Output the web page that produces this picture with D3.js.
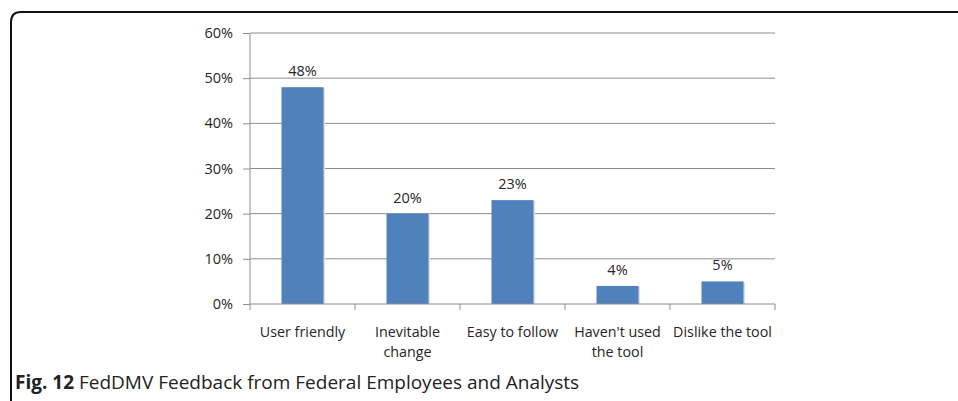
<!DOCTYPE html>
<html><head><meta charset="utf-8">
<script src="https://cdn.jsdelivr.net/npm/d3@7"></script>
<style>body{margin:0;background:#fff;}svg{display:block;}</style>
</head><body>
<script>
const categories = [["User friendly"], ["Inevitable", "change"], ["Easy to follow"], ["Haven't used", "the tool"], ["Dislike the tool"]];
const values = [48, 20, 23, 4, 5];
const valueLabels = ["48%", "20%", "23%", "4%", "5%"];
const yTicks = [0, 10, 20, 30, 40, 50, 60];

const W = 958, H = 401;
const svg = d3.select("body").append("svg").attr("width", W).attr("height", H);

// frame
svg.append("path")
  .attr("d", `M11,401 L11,22 Q11,12 21,12 L960,12`)
  .attr("fill", "none").attr("stroke", "#111").attr("stroke-width", 2);

const x0 = 250, x1 = 775, yTop = 33, yBot = 304;
const x = d3.scaleBand().domain(d3.range(categories.length)).range([x0, x1]).paddingInner(0.6).paddingOuter(0.3);
const y = d3.scaleLinear().domain([0, 60]).range([yBot, yTop]);

const font = "'Open Sans', 'DejaVu Sans', sans-serif";
const txt = "#262626";

// gridlines
svg.append("g").selectAll("line").data(yTicks.filter(d => d > 0)).join("line")
  .attr("x1", x0).attr("x2", x1).attr("y1", d => y(d)).attr("y2", d => y(d))
  .attr("stroke", "#8c8c8c").attr("stroke-width", 1);

// y axis
const yAxis = d3.axisLeft(y).tickValues(yTicks).tickFormat(d => d + "%").tickSize(7).tickPadding(10);
const gy = svg.append("g").attr("transform", `translate(${x0},0)`).call(yAxis);
gy.select(".domain").attr("stroke", "#8c8c8c").attr("d", `M0,${yTop}V${yBot}`);
gy.selectAll(".tick line").attr("stroke", "#8c8c8c");
gy.selectAll("text").attr("font-family", font).attr("font-size", 14.5).attr("fill", txt);

// bars shadow
svg.append("g").selectAll("rect").data(values).join("rect")
  .attr("x", (d, i) => x(i) + 1.5).attr("y", d => y(d) + 1)
  .attr("width", x.bandwidth()).attr("height", d => yBot - y(d) - 1)
  .attr("fill", "#d9dde3");
svg.append("g").selectAll("rect").data(values).join("rect")
  .attr("x", (d, i) => x(i)).attr("y", d => y(d))
  .attr("width", x.bandwidth()).attr("height", d => yBot - y(d))
  .attr("fill", "#4f81bd");

// x axis
svg.append("line").attr("x1", x0).attr("x2", x1).attr("y1", yBot).attr("y2", yBot).attr("stroke", "#8c8c8c");
const bounds = d3.range(categories.length + 1).map(i => x0 + i * (x1 - x0) / categories.length);
svg.append("g").selectAll("line").data(bounds).join("line")
  .attr("x1", d => d).attr("x2", d => d).attr("y1", yBot).attr("y2", yBot + 6).attr("stroke", "#8c8c8c");

// category labels
const lbl = svg.append("g").selectAll("text").data(categories).join("text")
  .attr("x", (d, i) => x(i) + x.bandwidth() / 2).attr("y", 337)
  .attr("text-anchor", "middle").attr("font-family", font).attr("font-size", 14.3).attr("fill", txt);
lbl.selectAll("tspan").data(d => d).join("tspan")
  .attr("x", function() { return this.parentNode.getAttribute("x"); })
  .attr("dy", (d, i) => i === 0 ? 0 : 20).text(d => d);

// value labels
svg.append("g").selectAll("text").data(values).join("text")
  .attr("x", (d, i) => x(i) + x.bandwidth() / 2).attr("y", d => y(d) - 11)
  .attr("text-anchor", "middle").attr("font-family", font).attr("font-size", 14.5).attr("fill", txt)
  .text((d, i) => valueLabels[i]);

// caption
const cap = svg.append("text").attr("x", 15).attr("y", 389).attr("font-family", font).attr("font-size", 19).attr("fill", "#222");
cap.append("tspan").attr("font-weight", "bold").text("Fig. 12");
cap.append("tspan").text(" FedDMV Feedback from Federal Employees and Analysts");
</script>
</body></html>
